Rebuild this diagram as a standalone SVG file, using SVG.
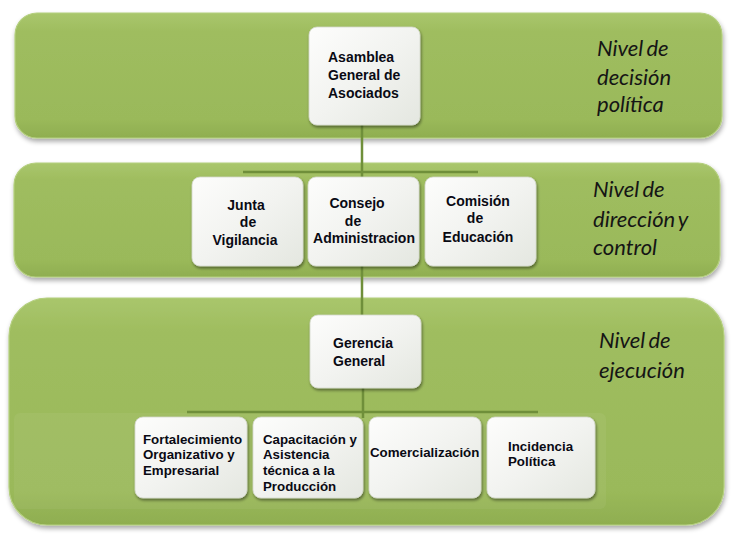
<svg xmlns="http://www.w3.org/2000/svg" width="744" height="540" viewBox="0 0 744 540">
<defs>
<linearGradient id="band" x1="0" y1="0" x2="0" y2="1">
<stop offset="0" stop-color="#a9c66c"/>
<stop offset="0.15" stop-color="#9fbd5f"/>
<stop offset="0.85" stop-color="#9ab95a"/>
<stop offset="1" stop-color="#8fae50"/>
</linearGradient>
<linearGradient id="box" x1="0" y1="0" x2="1" y2="1">
<stop offset="0" stop-color="#fdfdfc"/>
<stop offset="0.5" stop-color="#f2f3f0"/>
<stop offset="1" stop-color="#e4e7e0"/>
</linearGradient>
<filter id="sh" x="-10%" y="-10%" width="125%" height="130%">
<feGaussianBlur in="SourceAlpha" stdDeviation="2.5"/>
<feOffset dx="1" dy="3" result="b"/>
<feComponentTransfer><feFuncA type="linear" slope="0.35"/></feComponentTransfer>
<feMerge><feMergeNode/><feMergeNode in="SourceGraphic"/></feMerge>
</filter>
<filter id="bsh" x="-10%" y="-10%" width="125%" height="130%">
<feGaussianBlur in="SourceAlpha" stdDeviation="1.8"/>
<feOffset dx="1" dy="2" result="b"/>
<feComponentTransfer><feFuncA type="linear" slope="0.45"/></feComponentTransfer>
<feMerge><feMergeNode/><feMergeNode in="SourceGraphic"/></feMerge>
</filter>
</defs>
<style>
.band{fill:url(#band);stroke:#b4cf7e;stroke-width:1.2;filter:url(#sh)}
.box{fill:url(#box);stroke:#d3d8cb;stroke-width:0.8;filter:url(#bsh)}
.t{font-family:"Liberation Sans",Arial,sans-serif;font-weight:bold;font-size:14px;fill:#0a0a14}
.s{font-family:"Liberation Sans",Arial,sans-serif;font-weight:bold;font-size:13.3px;fill:#0a0a14}
.lv{font-family:Lato,"Open Sans",sans-serif;font-style:italic;font-size:22px;word-spacing:-2px;fill:#151515}
.c{fill:none;stroke:#6f8f3a;stroke-width:2.5}
</style>
<rect width="744" height="540" fill="#ffffff"/>
<g id="bands">
<rect class="band" x="15" y="13" width="707" height="125" rx="22"/>
<rect class="band" x="14" y="163" width="706" height="114" rx="22"/>
<rect class="band" x="9" y="298" width="715" height="227" rx="38"/>
<rect x="14" y="413" width="592" height="96" rx="6" fill="#ffffff" opacity="0.05"/>
</g>
<g id="level-labels">
<text class="lv" x="597" y="56">Nivel de</text>
<text class="lv" x="597" y="85">decisión</text>
<text class="lv" x="597" y="112">política</text>
<text class="lv" x="593" y="197">Nivel de</text>
<text class="lv" x="593" y="227">dirección y</text>
<text class="lv" x="593" y="255">control</text>
<text class="lv" x="599" y="348">Nivel de</text>
<text class="lv" x="599" y="378">ejecución</text>
</g>
<g id="connectors">
<path class="c" d="M362 124 V315"/>
<path class="c" d="M243 172 H478"/>
<path class="c" d="M363 386 V418"/>
<path class="c" d="M187 412 H538"/>
</g>
<g id="asamblea">
<rect class="box" x="309" y="27" width="111" height="98" rx="8"/>
<text class="t" x="328" y="62">Asamblea</text>
<text class="t" x="328" y="80">General de</text>
<text class="t" x="328" y="98">Asociados</text>
</g>
<g id="junta">
<rect class="box" x="192" y="177" width="111" height="89" rx="8"/>
<text class="t" text-anchor="middle" x="246" y="210">Junta</text>
<text class="t" text-anchor="middle" x="248" y="227">de</text>
<text class="t" text-anchor="middle" x="245" y="245">Vigilancia</text>
</g>
<g id="consejo">
<rect class="box" x="308" y="177" width="111" height="89" rx="8"/>
<text class="t" text-anchor="middle" x="357" y="208">Consejo</text>
<text class="t" text-anchor="middle" x="353" y="226">de</text>
<text class="t" text-anchor="middle" x="364" y="243">Administracion</text>
</g>
<g id="comision">
<rect class="box" x="425" y="177" width="111" height="89" rx="8"/>
<text class="t" text-anchor="middle" x="478" y="206">Comisión</text>
<text class="t" text-anchor="middle" x="475" y="223">de</text>
<text class="t" text-anchor="middle" x="478" y="242">Educación</text>
</g>
<g id="gerencia">
<rect class="box" x="310" y="315" width="111" height="73" rx="8"/>
<text class="t" x="333" y="348">Gerencia</text>
<text class="t" x="333" y="366">General</text>
</g>
<g id="fortalecimiento">
<rect class="box" x="135" y="417" width="112" height="81" rx="8"/>
<text class="s" x="143" y="444">Fortalecimiento</text>
<text class="s" x="143" y="459">Organizativo y</text>
<text class="s" x="143" y="475">Empresarial</text>
</g>
<g id="capacitacion">
<rect class="box" x="253" y="417" width="110" height="81" rx="8"/>
<text class="s" x="263" y="444">Capacitación y</text>
<text class="s" x="263" y="459">Asistencia</text>
<text class="s" x="263" y="475">técnica a la</text>
<text class="s" x="263" y="491">Producción</text>
</g>
<g id="comercializacion">
<rect class="box" x="369" y="417" width="112" height="81" rx="8"/>
<text class="s" x="370" y="457">Comercialización</text>
</g>
<g id="incidencia">
<rect class="box" x="487" y="417" width="108" height="81" rx="8"/>
<text class="s" x="508" y="451">Incidencia</text>
<text class="s" x="508" y="466">Política</text>
</g>
</svg>
